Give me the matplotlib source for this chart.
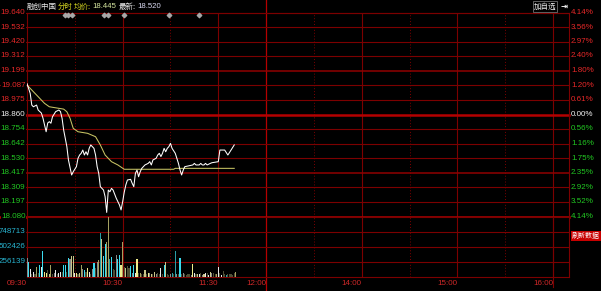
import numpy as np
import matplotlib.pyplot as plt
import matplotlib.transforms as mtransforms

# minutes since 09:30 (lunch break folded out: 12:00 and 13:00 share one spot)
price_min = [0, 2, 3, 4, 6, 7, 9, 10, 12, 13, 14, 15, 16, 18, 20, 21, 22, 23, 24, 25,
             26, 28, 29, 31, 32, 33, 34, 35, 36, 37, 38, 39, 40, 42, 43, 44, 45, 46, 48, 49,
             50, 51, 52, 53, 54, 56, 58, 59, 60, 61, 62, 63, 65, 66, 67, 68, 69, 70, 71, 72,
             74, 76, 77, 78, 79, 81, 82, 83, 84, 85, 86, 87, 88, 89, 90, 91, 93, 94, 95, 96,
             97, 98, 99, 101, 104, 105, 106, 108, 109, 110, 111, 112, 113, 115, 116, 120, 121, 124, 126, 128,
             130]
price = [19.100, 19.026, 18.936, 18.923, 18.936, 18.898, 18.875, 18.837, 18.732, 18.799,
         18.809, 18.797, 18.847, 18.886, 18.898, 18.886, 18.835, 18.745, 18.682, 18.618,
         18.516, 18.401, 18.426, 18.465, 18.529, 18.554, 18.567, 18.592, 18.554, 18.579,
         18.554, 18.605, 18.631, 18.605, 18.554, 18.465, 18.414, 18.312, 18.286, 18.235,
         18.115, 18.286, 18.273, 18.299, 18.286, 18.223, 18.172, 18.134, 18.197, 18.270,
         18.325, 18.363, 18.368, 18.337, 18.312, 18.414, 18.439, 18.388, 18.426, 18.452,
         18.478, 18.490, 18.503, 18.478, 18.516, 18.529, 18.554, 18.567, 18.542, 18.567,
         18.605, 18.579, 18.605, 18.618, 18.643, 18.605, 18.567, 18.529, 18.490, 18.439,
         18.401, 18.439, 18.465, 18.470, 18.478, 18.490, 18.478, 18.478, 18.490, 18.478,
         18.478, 18.490, 18.478, 18.490, 18.495, 18.503, 18.592, 18.592, 18.554, 18.592,
         18.631]

avg_min = [0, 3, 7, 11, 14, 20, 23, 25, 27, 29, 32, 38, 43, 46, 49, 53, 57, 61, 92, 93, 130]
avg_price = [19.089, 19.051, 19.000, 18.949, 18.923, 18.911, 18.905, 18.885, 18.835, 18.758,
             18.732, 18.720, 18.694, 18.631, 18.554, 18.503, 18.478, 18.445, 18.445, 18.452, 18.452]

# one bar per minute, 09:30 .. 11:41
volume = [317000, 250000, 133000, 50000, 83000, 50000, 167000, 67000, 200000, 167000,
          433000, 83000, 67000, 117000, 50000, 200000, 50000, 67000, 117000, 50000,
          67000, 83000, 83000, 200000, 200000, 83000, 317000, 300000, 350000, 350000,
          67000, 67000, 50000, 67000, 200000, 133000, 117000, 83000, 150000, 83000,
          50000, 133000, 233000, 150000, 250000, 283000, 733000, 633000, 350000, 550000,
          583000, 990000, 300000, 333000, 133000, 117000, 367000, 300000, 367000, 200000,
          583000, 167000, 150000, 183000, 150000, 183000, 67000, 200000, 67000, 300000,
          67000, 67000, 50000, 50000, 117000, 50000, 67000, 67000, 50000, 50000,
          83000, 50000, 67000, 50000, 150000, 50000, 200000, 250000, 50000, 33000,
          50000, 67000, 50000, 433000, 50000, 50000, 317000, 50000, 67000, 50000,
          33000, 50000, 50000, 33000, 217000, 67000, 50000, 50000, 50000, 67000,
          33000, 50000, 67000, 67000, 33000, 83000, 67000, 67000, 50000, 50000,
          167000, 67000, 33000, 100000, 50000, 33000, 50000, 50000, 50000, 33000,
          67000, 83000]
vol_kind = list("gcwdwdodcwcyydbodgwdwwdccdcgbbwydbogcdywdgcdgotbccootcddgccyodbddcgcwydodd"
                "bdygbdbgddwdcbddgtdtgdcdgddddgywdbwdgbwdwbgddowdwddtdddddo")
vol_kind = vol_kind[:len(volume)]

price_levels = [19.640, 19.532, 19.420, 19.312, 19.199, 19.087, 18.975, 18.860,
                18.754, 18.642, 18.530, 18.417, 18.309, 18.197, 18.080]
pct_labels = ["4.14%", "3.56%", "2.97%", "2.40%", "1.80%", "1.20%", "0.61%", "0.00%",
              "0.56%", "1.16%", "1.75%", "2.35%", "2.92%", "3.52%", "4.14%"]
vol_levels = [256139, 502426, 748713]
time_ticks = [0, 60, 120, 150, 210, 270, 330]
time_labels = ["09:30", "10:30", "11:30", "12:00", "14:00", "15:00", "16:00"]
event_min = [24, 26, 28, 48, 51, 61, 89, 108]
prev_close = 18.860

palette = {"c": "#3cdcf0", "t": "#2a9ea6", "w": "#e8e8e8", "y": "#f0ec8c",
           "b": "#c8c488", "o": "#a4a060", "d": "#4e4e34", "g": "#8a8a8a"}
GRID = "#7c0000"
BRIGHT = "#b40000"
num_font = "Liberation Sans"
cjk = ["Noto Sans CJK SC", "DejaVu Sans"]

W, H = 601, 291
fig = plt.figure(figsize=(W / 100, H / 100), dpi=100, facecolor="black")
x0, x1 = 27, 569
ax = fig.add_axes([x0 / W, 1 - 217 / H, (x1 - x0) / W, (217 - 13) / H])
axv = fig.add_axes([x0 / W, 1 - 277 / H, (x1 - x0) / W, 60 / H], sharex=ax)

for a in (ax, axv):
    a.set_facecolor("black")
    a.set_xticks([])
    a.set_yticks([])
    for s in a.spines.values():
        s.set_color(GRID)
        s.set_linewidth(0.8)

ax.set_xlim(0, 340)
ax.set_ylim(price_levels[-1], price_levels[0])
axv.set_ylim(0, 995000)

# vertical half-hour grid
for m in range(30, 340, 30):
    hour = m in time_ticks
    for a in (ax, axv):
        if m == 150:
            continue
        a.axvline(m, color=GRID, lw=0.8 if hour else 0.7,
                  ls="-" if hour else (0, (1, 2)), zorder=1)
ax.axvline(150, ymin=0, ymax=1 + 13 / 204, color=BRIGHT, lw=0.9, clip_on=False, zorder=1)
axv.axvline(150, ymin=-14 / 60, ymax=1, color=BRIGHT, lw=0.9, clip_on=False, zorder=1)
axv.axvline(330, ymin=-10 / 60, ymax=1, color=GRID, lw=0.8, clip_on=False, zorder=1)

# horizontal price grid + labels
ext = -x0 / (x1 - x0)
tr = mtransforms.blended_transform_factory(ax.transAxes, ax.transData)
for lv, pl in zip(price_levels, pct_labels):
    strong = lv in (prev_close, price_levels[-1])
    mid = lv in (price_levels[4], price_levels[11])
    ax.axhline(lv, xmin=ext, xmax=1, clip_on=False, zorder=1,
               color=BRIGHT if strong else ("#900000" if mid else GRID),
               lw=1.8 if strong else (1.1 if mid else 0.8))
    if lv > prev_close:
        col = "#e82828"
    elif lv < prev_close:
        col = "#22c822"
    else:
        col = "#f0f0f0"
    ax.text(-1.5 / (x1 - x0), lv, f"{lv:.3f}", transform=tr, ha="right", va="center",
            color=col, fontsize=5.8, family=num_font,
            bbox=dict(boxstyle="square,pad=0.05", fc="black", ec="none"))
    ax.text(1 + 2 / (x1 - x0), lv, pl, transform=tr, ha="left", va="center",
            color=col, fontsize=5.8, family=num_font)

# volume grid + labels
trv = mtransforms.blended_transform_factory(axv.transAxes, axv.transData)
for lv in vol_levels:
    axv.axhline(lv, xmin=ext, xmax=1, clip_on=False, color=GRID, lw=0.8, zorder=1)
    axv.text(-1.5 / (x1 - x0), lv, str(lv), transform=trv, ha="right", va="center",
             color="#28b4d0", fontsize=5.8, family=num_font,
             bbox=dict(boxstyle="square,pad=0.05", fc="black", ec="none"))

# series
ax.plot(avg_min, avg_price, color="#c8c464", lw=0.75, zorder=3)
ax.plot(price_min, price, color="white", lw=0.75, zorder=4)
mins = np.arange(len(volume))
axv.bar(mins, volume, width=0.7, color=[palette[k] for k in vol_kind], zorder=3)

# news markers along the top
tre = mtransforms.blended_transform_factory(ax.transData, ax.transAxes)
ax.scatter(event_min, [0.99] * len(event_min), marker="D", s=5, color="#a8a8a8",
           transform=tre, zorder=5, clip_on=False)

# time labels, right-aligned to their grid line
trt = mtransforms.blended_transform_factory(axv.transData, axv.transAxes)
for t, lab in zip(time_ticks, time_labels):
    axv.text(t, -0.05, lab, transform=trt, ha="right", va="top",
             color="#d02828", fontsize=5.8, family=num_font)

# header
y_head = 1 - 6.5 / H
fig.text(27 / W, y_head, "融创中国", color="#e8e8e8", fontsize=5.4, family=cjk, va="center")
fig.text(58 / W, y_head, "分时", color="#d8d820", fontsize=5.4, family=cjk, va="center")
fig.text(74 / W, y_head, "均价:", color="#d8d820", fontsize=5.4, family=cjk, va="center")
fig.text(92 / W, y_head, "18.445", color="#d8e8a0", fontsize=5.6, family=num_font, va="center")
fig.text(119 / W, y_head, "最新:", color="#e8e8e8", fontsize=5.4, family=cjk, va="center")
fig.text(137 / W, y_head, "18.520", color="#d8d8f0", fontsize=5.6, family=num_font, va="center")

# buttons
fig.text(545 / W, y_head, "加自选", color="#f0f0f0", fontsize=5.4, family=cjk,
         ha="center", va="center",
         bbox=dict(boxstyle="square,pad=0.15", fc="black", ec="#707070", lw=0.6))
fig.text(564 / W, y_head, "⇥", color="#f0f0f0", fontsize=6, family="DejaVu Sans",
         ha="center", va="center", weight="bold")
fig.text(586 / W, 1 - 236 / H, "刷新数据", color="white", fontsize=5, family=cjk,
         ha="center", va="center",
         bbox=dict(boxstyle="square,pad=0.2", fc="#c80000", ec="none"))

fig.savefig("out.png", dpi=100, facecolor="black")
